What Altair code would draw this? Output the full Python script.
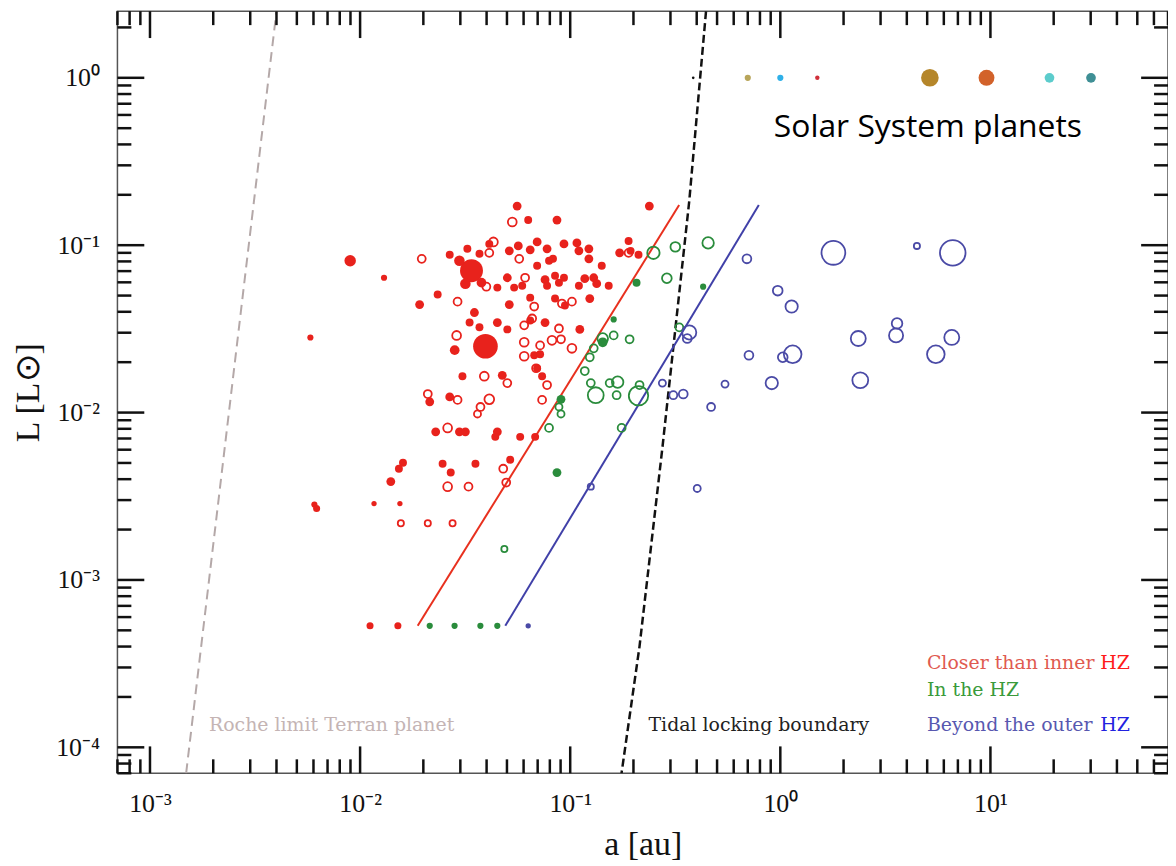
import altair as alt
import pandas as pd

# ---------------- data ----------------
# Closer than inner HZ, filled symbols
red_f_a = [0.0559, 0.0631, 0.0865, 0.238, 0.0412, 0.00897, 0.0130, 0.00580, 0.00606, 0.00621,
           0.0339, 0.0297, 0.0324, 0.0370, 0.0317, 0.0378, 0.0267, 0.0513, 0.0566, 0.0645,
           0.0696, 0.0776, 0.0828, 0.0934, 0.1076, 0.1100, 0.1227, 0.1227, 0.1413, 0.0696,
           0.0793, 0.1719, 0.1896, 0.1938, 0.2114, 0.0502, 0.0541, 0.0591, 0.0759, 0.0776,
           0.0847, 0.0884, 0.0934, 0.1100, 0.1173, 0.1294, 0.1337, 0.1525, 0.0450, 0.0234,
           0.0192, 0.0513, 0.0645, 0.0847, 0.0944, 0.1239, 0.0350, 0.0332, 0.0370, 0.0450,
           0.0502, 0.0645, 0.0759, 0.1111, 0.0395, 0.0282, 0.0674, 0.0719, 0.0307, 0.0475,
           0.0735, 0.0696, 0.02145, 0.0267, 0.0229, 0.0297, 0.0317, 0.0450, 0.0440, 0.0578,
           0.0681, 0.0160, 0.0153, 0.0247, 0.0270, 0.0354, 0.0518, 0.0140, 0.01165, 0.01547,
           0.01115, 0.01513]
red_f_L = [0.1712, 0.1413, 0.1413, 0.1712, 0.1018, 0.0807, 0.0639, 0.0281, 0.00282, 0.00267,
           0.0704, 0.0807, 0.0951, 0.0888, 0.0589, 0.0597, 0.0876, 0.0925, 0.0990, 0.0938,
           0.1046, 0.0951, 0.0829, 0.1018, 0.1032, 0.0925, 0.0951, 0.0829, 0.0753, 0.0753,
           0.0807, 0.0900, 0.1060, 0.0925, 0.0876, 0.0639, 0.0558, 0.0573, 0.0622, 0.0573,
           0.0657, 0.0597, 0.0639, 0.0573, 0.0631, 0.0639, 0.0589, 0.0573, 0.0558, 0.0507,
           0.0442, 0.0442, 0.0486, 0.0480, 0.0436, 0.0480, 0.0396, 0.0345, 0.0323, 0.0345,
           0.0314, 0.0355, 0.0345, 0.0314, 0.0249, 0.0236, 0.0220, 0.0223, 0.0165, 0.0167,
           0.0165, 0.0184, 0.0116, 0.0124, 0.00767, 0.00767, 0.00767, 0.00767, 0.00716, 0.00716,
           0.00716, 0.00502, 0.00462, 0.00495, 0.00438, 0.00495, 0.00523, 0.00387, 0.00286, 0.00286,
           0.000532, 0.000532]
red_f_d = [10, 9, 10, 10, 9, 13, 7, 7, 7, 8,
           26, 12, 9, 9, 12, 11, 9, 10, 10, 10,
           10, 10, 9, 10, 10, 10, 10, 10, 9, 9,
           9, 10, 9, 9, 9, 10, 9, 9, 10, 9,
           9, 9, 9, 9, 10, 10, 10, 9, 9, 9,
           10, 10, 9, 9, 9, 10, 10, 9, 9, 10,
           9, 9, 10, 10, 28, 11, 9, 9, 9, 10,
           9, 9, 10, 10, 10, 10, 10, 10, 9, 9,
           9, 9, 9, 9, 9, 9, 9, 10, 6, 6,
           8, 8]

# Closer than inner HZ, open symbols
red_o_a = [0.0530, 0.0431, 0.01965, 0.0572, 0.0412, 0.0610, 0.0399, 0.0291, 0.0674, 0.0913,
           0.1019, 0.1896, 0.0659, 0.0604, 0.0884, 0.0288, 0.0604, 0.0719, 0.0819, 0.0904,
           0.1019, 0.0604, 0.0390, 0.0502, 0.0688, 0.0776, 0.0210, 0.0291, 0.0412, 0.0374,
           0.0362, 0.0735, 0.0261, 0.0480, 0.0261, 0.0328, 0.0496, 0.01563, 0.0210, 0.02755]
red_o_L = [0.1375, 0.1046, 0.0829, 0.0829, 0.0900, 0.0639, 0.0565, 0.0460, 0.0430, 0.0448,
           0.0460, 0.0900, 0.0365, 0.0332, 0.0318, 0.0289, 0.0263, 0.0252, 0.0270, 0.0274,
           0.0242, 0.0217, 0.0165, 0.0150, 0.0184, 0.0146, 0.0129, 0.0119, 0.0120, 0.0108,
           0.00981, 0.0119, 0.00810, 0.00462, 0.00361, 0.00361, 0.00382, 0.00218, 0.00218, 0.00218]
red_o_d = [10, 10, 9, 9, 9, 9, 9, 9, 9, 9,
           9, 9, 9, 9, 9, 10, 10, 9, 10, 9,
           10, 10, 10, 9, 9, 9, 9, 9, 11, 9,
           8, 9, 10, 9, 10, 9, 9, 7, 7, 7]

# In the HZ
green_f_a = [0.2069, 0.4292, 0.1610, 0.1428, 0.0904, 0.0865, 0.02145, 0.02816, 0.03737, 0.04498]
green_f_L = [0.0597, 0.0565, 0.0360, 0.0263, 0.0120, 0.00438, 0.000532, 0.000532, 0.000532, 0.000532]
green_f_d = [9, 7, 7, 11, 10, 10, 7, 7, 7, 7]

green_o_a = [0.2489, 0.3164, 0.4533, 0.2884, 0.1610, 0.1917, 0.1428, 0.1294, 0.1239, 0.1173,
             0.3305, 0.1253, 0.1323, 0.1541, 0.1682, 0.1663, 0.2138, 0.2114, 0.0884, 0.0904,
             0.0793, 0.1757, 0.0486]
green_o_L = [0.0900, 0.0977, 0.1032, 0.0635, 0.0289, 0.0274, 0.0277, 0.0242, 0.0214, 0.0177,
             0.0323, 0.0150, 0.0127, 0.0150, 0.0152, 0.0127, 0.0146, 0.0126, 0.0108, 0.00981,
             0.00810, 0.00810, 0.00153]
green_o_d = [14, 11, 13, 11, 9, 9, 12, 9, 9, 9,
             9, 9, 18, 9, 13, 9, 9, 22, 8, 8,
             9, 9, 7]

# Beyond the outer HZ
blue_o_a = [0.6934, 1.789, 4.468, 6.617, 0.972, 1.132, 2.350, 3.594, 3.555, 6.546,
            5.497, 0.7089, 1.027, 1.145, 0.5455, 0.9106, 2.402, 0.2746, 0.3095, 0.3452,
            0.4683, 0.3686, 0.3606, 0.4022, 0.1253]
blue_o_L = [0.0829, 0.0900, 0.0990, 0.0900, 0.0535, 0.0430, 0.0277, 0.0341, 0.0289, 0.0281,
            0.0223, 0.0220, 0.0214, 0.0223, 0.0148, 0.0150, 0.0156, 0.0150, 0.0127, 0.0129,
            0.0108, 0.0301, 0.0277, 0.00352, 0.00361]
blue_o_d = [10, 27, 7, 29, 11, 14, 17, 12, 16, 17,
            20, 10, 11, 20, 8, 14, 18, 8, 9, 10,
            9, 16, 10, 8, 7]

blue_f_a = [0.0631]
blue_f_L = [0.000532]
blue_f_d = [6]

# Solar System planets
ss_names = ["Mercury", "Venus", "Earth", "Mars", "Jupiter", "Saturn", "Uranus", "Neptune"]
ss_a = [0.385, 0.70, 1.00, 1.50, 5.15, 9.58, 19.1, 30.1]
ss_L = [1.0, 1.0, 1.0, 1.0, 1.0, 1.0, 1.0, 1.0]
ss_d = [3, 7, 7, 5, 20, 18, 11, 11]
ss_colors = ["#111111", "#b8a55a", "#2fb0e8", "#d0303a", "#b5862a", "#d2622a", "#5ccccc", "#3f8f95"]

# Boundaries
roche_a = [0.001486, 0.0040]
roche_L = [7.0e-5, 2.5]
tidal_a = [0.443, 0.3686, 0.2746, 0.2137, 0.1755]
tidal_L = [2.5, 0.1833, 0.00615, 0.00040, 7.0e-5]
inner_a = [0.0188, 0.330]
inner_L = [0.000532, 0.1736]
outer_a = [0.0491, 0.790]
outer_L = [0.000532, 0.1736]

major_x = [1e-3, 1e-2, 1e-1, 1.0, 10.0]
minor_x = [k * 10.0 ** e for e in range(-4, 2) for k in range(2, 10) if 7e-4 <= k * 10.0 ** e <= 70]
major_y = [1e-4, 1e-3, 1e-2, 1e-1, 1.0]
minor_y = [k * 10.0 ** e for e in range(-5, 1) for k in range(2, 10) if 7e-5 <= k * 10.0 ** e <= 2.5]

# ---------------- build tables ----------------
def group(a, L, d, cls, filled):
    return pd.DataFrame({"a": a, "L": L, "d": d, "cls": cls, "filled": filled})

pts = pd.concat([
    group(red_f_a, red_f_L, red_f_d, "inner", True),
    group(red_o_a, red_o_L, red_o_d, "inner", False),
    group(green_f_a, green_f_L, green_f_d, "hz", True),
    group(green_o_a, green_o_L, green_o_d, "hz", False),
    group(blue_o_a, blue_o_L, blue_o_d, "outer", False),
    group(blue_f_a, blue_f_L, blue_f_d, "outer", True),
], ignore_index=True)
cls_hex = {"inner": "#e8221c", "hz": "#2a8c3c", "outer": "#4a4aa6"}
pts["col"] = pts["cls"].map(cls_hex)

ss = pd.DataFrame({"name": ss_names, "a": ss_a, "L": ss_L, "d": ss_d, "col": ss_colors})

W, H = 1056, 766
xscale = alt.Scale(type="log", domain=[7e-4, 70], nice=False)
yscale = alt.Scale(type="log", domain=[7e-5, 2.5], nice=False)

SERIF = "Liberation Serif"
LBL = "DejaVu Serif"
label_x = ("datum.value < 0.005 ? '10⁻³' : datum.value < 0.05 ? '10⁻²' : "
           "datum.value < 0.5 ? '10⁻¹' : datum.value < 5 ? '10⁰' : '10¹'")
label_y = ("datum.value < 0.0005 ? '10⁻⁴' : datum.value < 0.005 ? '10⁻³' : "
           "datum.value < 0.05 ? '10⁻²' : datum.value < 0.5 ? '10⁻¹' : '10⁰'")

xaxis = alt.Axis(values=major_x, labelExpr=label_x, ticks=False, domain=False, grid=False,
                 labelFont=SERIF, labelFontSize=26, labelColor="#111", labelPadding=17,
                 title="a [au]", titleFont=SERIF, titleFontSize=34, titleFontWeight="normal",
                 titleColor="#111", titlePadding=12)
yaxis = alt.Axis(values=major_y, labelExpr=label_y, ticks=False, domain=False, grid=False,
                 labelFont=SERIF, labelFontSize=26, labelColor="#111", labelPadding=18,
                 title="L [L⊙]", titleFont=SERIF, titleFontSize=34, titleFontWeight="normal",
                 titleColor="#111", titlePadding=10)

def X(field):
    return alt.X(field, type="quantitative", scale=xscale, axis=xaxis)

def Y(field):
    return alt.Y(field, type="quantitative", scale=yscale, axis=yaxis)

col_enc = alt.Color("col:N", scale=None)
size_enc = alt.Size("d:Q", scale=alt.Scale(type="pow", exponent=2, domain=[0, 30], range=[0, 707]),
                    legend=None)

filled_layer = alt.Chart(pts).transform_filter("datum.filled").mark_point(
    shape="circle", filled=True, opacity=1, clip=True
).encode(x=X("a"), y=Y("L"), color=col_enc, size=size_enc)

open_layer = alt.Chart(pts).transform_filter("!datum.filled").mark_point(
    shape="circle", filled=False, opacity=1, strokeWidth=1.8, clip=True
).encode(x=X("a"), y=Y("L"), color=col_enc, size=size_enc)

ss_layer = alt.Chart(ss).mark_point(shape="circle", filled=True, opacity=1).encode(
    x=X("a"), y=Y("L"), color=col_enc, size=size_enc,
)

def line(a, L, color, width, dash=None):
    df = pd.DataFrame({"a": a, "L": L, "o": list(range(len(a)))})
    kw = dict(color=color, strokeWidth=width, clip=True)
    if dash:
        kw["strokeDash"] = dash
    return alt.Chart(df).mark_line(**kw).encode(x=X("a"), y=Y("L"), order="o:Q")

roche = line(roche_a, roche_L, "#b4a8a8", 2, [10, 6])
tidal = line(tidal_a, tidal_L, "#111111", 2.5, [8, 4])
inner = line(inner_a, inner_L, "#e8301e", 2)
outer = line(outer_a, outer_L, "#4040a8", 2)

# texts
def text(a, L, s, color, font, size, align="left", baseline="middle"):
    df = pd.DataFrame({"a": [a], "L": [L], "t": [s]})
    return alt.Chart(df).mark_text(align=align, baseline=baseline, font=font, fontSize=size,
                                   color=color).encode(x=X("a"), y=Y("L"), text="t:N")

FS = 19
texts = [
    text(0.931, 0.446, "Solar System planets", "#000000", "Open Sans", 32, baseline="alphabetic"),
    text(4.985, 3.21e-4, "Closer than inner", "#e05a50", LBL, FS),
    text(33.3, 3.21e-4, "HZ", "#ff1a1a", LBL, FS),
    text(4.985, 2.19e-4, "In the HZ", "#3a9a3a", LBL, FS),
    text(4.985, 1.355e-4, "Beyond the outer", "#5858b0", LBL, FS),
    text(33.3, 1.355e-4, "HZ", "#2222e0", LBL, FS),
    text(0.2358, 1.355e-4, "Tidal locking boundary", "#222222", LBL, FS),
    text(1.909e-3, 1.355e-4, "Roche limit Terran planet", "#c4b4b4", LBL, FS),
]

# inward ticks on all four sides
def xticks(vals, length, side):
    df = pd.DataFrame({"a": vals})
    if side == "bottom":
        enc = dict(y=alt.value(H), y2=alt.value(H - length))
    else:
        enc = dict(y=alt.value(0), y2=alt.value(length))
    return alt.Chart(df).mark_rule(color="#111", strokeWidth=2.5).encode(x=X("a"), **enc)

def yticks(vals, length, side):
    df = pd.DataFrame({"L": vals})
    if side == "left":
        enc = dict(x=alt.value(0), x2=alt.value(length))
    else:
        enc = dict(x=alt.value(W), x2=alt.value(W - length))
    return alt.Chart(df).mark_rule(color="#111", strokeWidth=2.5).encode(y=Y("L"), **enc)

ticks = [
    xticks(major_x, 27, "bottom"), xticks(minor_x, 14, "bottom"),
    xticks(major_x, 27, "top"), xticks(minor_x, 14, "top"),
    yticks(major_y, 27, "left"), yticks(minor_y, 14, "left"),
    yticks(major_y, 27, "right"), yticks(minor_y, 14, "right"),
]

chart = alt.layer(
    roche, tidal, inner, outer, filled_layer, open_layer, ss_layer, *texts, *ticks
).properties(
    width=W, height=H,
    autosize=alt.AutoSizeParams(type="none"),
    padding={"left": 110, "top": 1, "right": 0, "bottom": 90},
    background="white",
).configure_view(stroke="#555555", strokeWidth=1.5)

chart.save("out.html", embed_options={"renderer": "svg", "actions": False})
